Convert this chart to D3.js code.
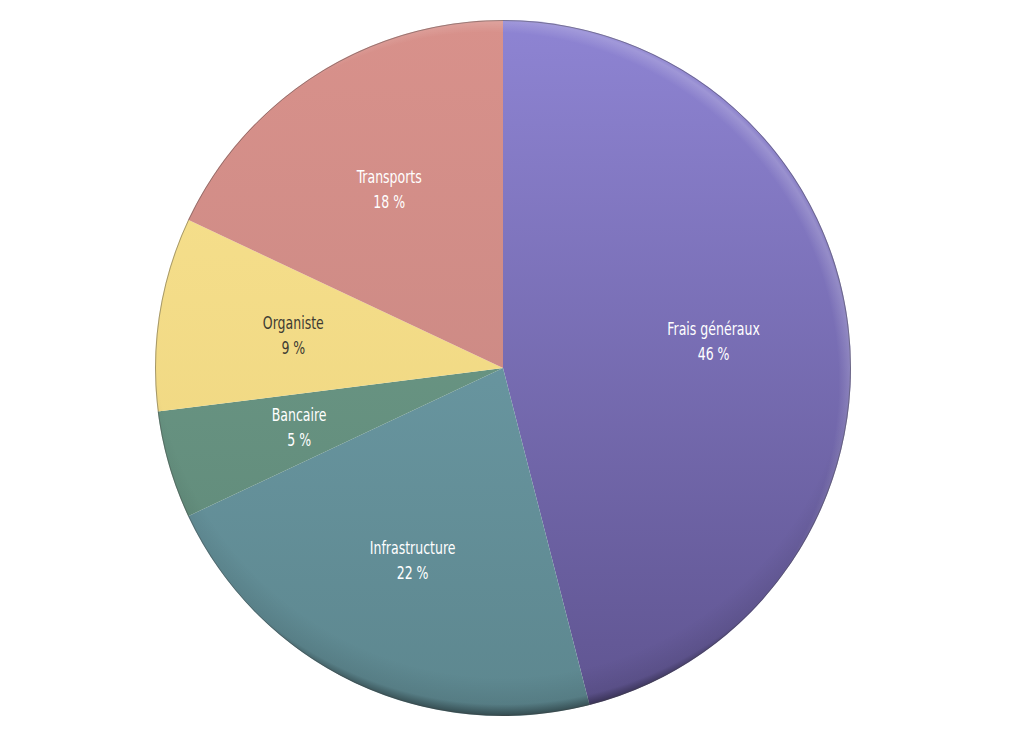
<!DOCTYPE html>
<html><head><meta charset="utf-8">
<script src="https://cdn.jsdelivr.net/npm/d3@7"></script>
<style>body{margin:0;background:#fff}svg{display:block}</style>
</head><body><svg id="c" width="1024" height="730"></svg>
<script>
const categories = ["Frais généraux","Infrastructure","Bancaire","Organiste","Transports"];
const values = [46,22,5,9,18];
const topColors = ["#8e84d3","#72a2ae","#72a08d","#f8e290","#d8918b"];
const botColors = ["#5f5490","#5d878f","#5d8676","#ecd37c","#c48580"];
const textColors = ["#ffffff","#ffffff","#ffffff","#3e3b33","#ffffff"];

const svg = d3.select("#c");
const cx = 503, cy = 368, r = 348;
const defs = svg.append("defs");
categories.forEach((c,i)=>{
  const g = defs.append("linearGradient").attr("id","g"+i)
    .attr("gradientUnits","userSpaceOnUse")
    .attr("x1",0).attr("y1",-r).attr("x2",0).attr("y2",r);
  g.append("stop").attr("offset","0%").attr("stop-color",topColors[i]);
  g.append("stop").attr("offset","100%").attr("stop-color",botColors[i]);
});
const rg = defs.append("radialGradient").attr("id","edge")
  .attr("gradientUnits","userSpaceOnUse").attr("cx",0).attr("cy",-40).attr("r",r+40).attr("fx",0).attr("fy",-40);
rg.append("stop").attr("offset","0.90").attr("stop-color","#000").attr("stop-opacity",0);
rg.append("stop").attr("offset","0.97").attr("stop-color","#000").attr("stop-opacity",0.08);
rg.append("stop").attr("offset","1").attr("stop-color","#000").attr("stop-opacity",0.45);
const hg = defs.append("radialGradient").attr("id","hl")
  .attr("gradientUnits","userSpaceOnUse").attr("cx",-14).attr("cy",14).attr("r",r+20).attr("fx",-14).attr("fy",14);
hg.append("stop").attr("offset","0.95").attr("stop-color","#fff").attr("stop-opacity",0);
hg.append("stop").attr("offset","0.985").attr("stop-color","#fff").attr("stop-opacity",0.18);
hg.append("stop").attr("offset","1").attr("stop-color","#fff").attr("stop-opacity",0);

const pie = d3.pie().sort(null).value(d=>d)(values);
const arc = d3.arc().innerRadius(0).outerRadius(r);
const g = svg.append("g").attr("transform",`translate(${cx},${cy})`);
const clip = defs.append("clipPath").attr("id","pc");
clip.append("circle").attr("r",r);
g.selectAll("path.s").data(pie).join("path").attr("class","s")
  .attr("d",arc).attr("fill",(d,i)=>`url(#g${i})`);
g.append("circle").attr("r",r).attr("fill","url(#hl)").attr("clip-path","url(#pc)");
g.append("circle").attr("r",r).attr("fill","url(#edge)").attr("clip-path","url(#pc)");
g.append("circle").attr("r",r-0.5).attr("fill","none").attr("stroke","#444").attr("stroke-opacity",0.45).attr("stroke-width",1);

const font = "'DejaVu Sans Condensed','DejaVu Sans',sans-serif";
const la = d3.arc().innerRadius(r*0.61).outerRadius(r*0.61);
const lbl = g.selectAll("g.l").data(pie).join("g").attr("class","l")
  .attr("transform",d=>`translate(${la.centroid(d)}) scale(0.82,1)`);
lbl.append("text").attr("text-anchor","middle").attr("y",-6)
  .attr("font-family",font).attr("font-stretch","condensed").attr("font-size",17)
  .attr("fill",(d,i)=>textColors[i]).text((d,i)=>categories[i]);
lbl.append("text").attr("text-anchor","middle").attr("y",19)
  .attr("font-family",font).attr("font-stretch","condensed").attr("font-size",17)
  .attr("fill",(d,i)=>textColors[i]).text((d,i)=>values[i]+" %");
</script></body></html>
